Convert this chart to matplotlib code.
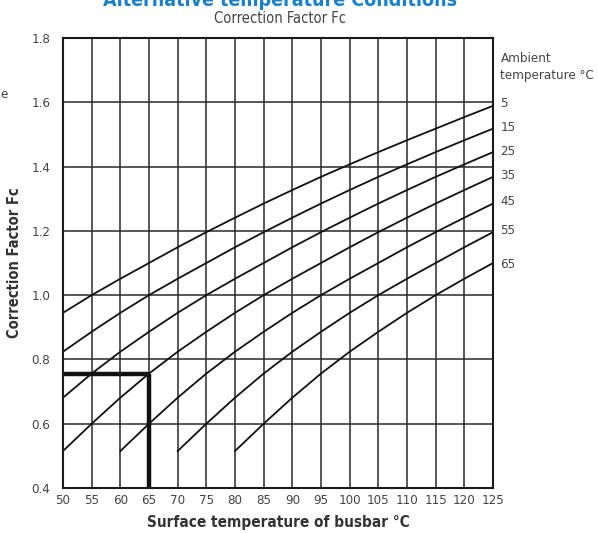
import matplotlib
matplotlib.use("Agg")
import matplotlib.pyplot as plt
from matplotlib import font_manager

# a condensed face looks closest to the original print
fonts = font_manager.fontManager.ttflist
names = {f.name for f in fonts}
dv_cond = [f for f in fonts if f.name == 'DejaVu Sans' and 'ondensed' in f.fname]
if 'Liberation Sans Narrow' in names:
    plt.rcParams['font.family'] = ['Liberation Sans Narrow', 'DejaVu Sans']
elif dv_cond:
    plt.rcParams['font.family'] = ['DejaVu Sans']
    plt.rcParams['font.stretch'] = 'condensed'
else:
    plt.rcParams['font.family'] = ['Liberation Sans', 'DejaVu Sans']

# surface temperature grid (°C) and correction factor read per ambient curve
ts_5 = [50, 55, 60, 65, 70, 75, 80, 85, 90, 95, 100, 105, 110, 115, 120, 125]
fc_5 = [0.945, 1.00, 1.051, 1.10, 1.149, 1.196, 1.241, 1.285, 1.327, 1.368, 1.407, 1.445, 1.482, 1.518, 1.554, 1.589]
ts_15 = [50, 55, 60, 65, 70, 75, 80, 85, 90, 95, 100, 105, 110, 115, 120, 125]
fc_15 = [0.824, 0.886, 0.945, 1.00, 1.051, 1.10, 1.149, 1.196, 1.241, 1.285, 1.327, 1.368, 1.407, 1.445, 1.482, 1.518]
ts_25 = [50, 55, 60, 65, 70, 75, 80, 85, 90, 95, 100, 105, 110, 115, 120, 125]
fc_25 = [0.681, 0.756, 0.824, 0.886, 0.945, 1.00, 1.051, 1.10, 1.149, 1.196, 1.241, 1.285, 1.327, 1.368, 1.407, 1.445]
ts_35 = [50, 55, 60, 65, 70, 75, 80, 85, 90, 95, 100, 105, 110, 115, 120, 125]
fc_35 = [0.515, 0.60, 0.681, 0.756, 0.824, 0.886, 0.945, 1.00, 1.051, 1.10, 1.149, 1.196, 1.241, 1.285, 1.327, 1.368]
ts_45 = [60, 65, 70, 75, 80, 85, 90, 95, 100, 105, 110, 115, 120, 125]
fc_45 = [0.515, 0.60, 0.681, 0.756, 0.824, 0.886, 0.945, 1.00, 1.051, 1.10, 1.149, 1.196, 1.241, 1.285]
ts_55 = [70, 75, 80, 85, 90, 95, 100, 105, 110, 115, 120, 125]
fc_55 = [0.515, 0.60, 0.681, 0.756, 0.824, 0.886, 0.945, 1.00, 1.051, 1.10, 1.149, 1.196]
ts_65 = [80, 85, 90, 95, 100, 105, 110, 115, 120, 125]
fc_65 = [0.515, 0.60, 0.681, 0.756, 0.824, 0.886, 0.945, 1.00, 1.051, 1.10]

curves = [(ts_5, fc_5, '5'), (ts_15, fc_15, '15'), (ts_25, fc_25, '25'),
          (ts_35, fc_35, '35'), (ts_45, fc_45, '45'), (ts_55, fc_55, '55'),
          (ts_65, fc_65, '65')]
label_y = [1.595, 1.522, 1.448, 1.372, 1.29, 1.2, 1.095]

# example reading: 35 °C ambient at 65 °C surface
ex_ts = 65
ex_fc = 0.756

x_ticks = list(range(50, 130, 5))
y_ticks = [0.4, 0.6, 0.8, 1.0, 1.2, 1.4, 1.6, 1.8]

fig = plt.figure(figsize=(5.98, 5.33), dpi=100)
ax = fig.add_axes([63/598, 45/533, 430/598, 450/533])

ax.set_xlim(50, 125)
ax.set_ylim(0.4, 1.8)
ax.set_xticks(x_ticks)
ax.set_yticks(y_ticks)
ax.set_yticklabels([f'{v:.1f}' for v in y_ticks])
ax.tick_params(length=0, labelsize=9.5, labelcolor='#444444')
ax.tick_params(axis='y', pad=9)
ax.tick_params(axis='x', pad=4)
ax.grid(True, color='#2a2a2a', lw=1.1)
for s in ax.spines.values():
    s.set_linewidth(1.5)
    s.set_color('#1a1a1a')

for ts, fc, name in curves:
    ax.plot(ts, fc, color='#111111', lw=1.3)

ax.plot([50, ex_ts], [ex_fc, ex_fc], color='#111111', lw=3.2, solid_capstyle='butt')
ax.plot([ex_ts, ex_ts], [0.4, ex_fc], color='#111111', lw=3.2, solid_capstyle='butt')

for (ts, fc, name), ly in zip(curves, label_y):
    ax.text(126.3, ly, name, fontsize=9.5, color='#444444', va='center', ha='left')
ax.text(126.3, 1.71, 'Ambient\ntemperature °C', fontsize=9.5, color='#444444',
        va='center', ha='left', linespacing=1.45)

ax.set_xlabel('Surface temperature of busbar °C', fontsize=11, fontweight='bold',
              color='#333333', labelpad=6)
ax.set_ylabel('Correction Factor Fc', fontsize=10.5, fontweight='bold',
              color='#333333', labelpad=7)

fig.text(280/598, 1 - 1/533, 'Alternative temperature Conditions', fontsize=14,
         fontweight='bold', color='#1a80cc', ha='center', va='center')
fig.text(280/598, 1 - 18.5/533, 'Correction Factor Fc', fontsize=10.5, color='#444444',
         ha='center', va='center')
fig.text(0.0, 1 - 95/533, 'e', fontsize=9.5, color='#444444', ha='left', va='center')

fig.savefig('out.png', dpi=100)
